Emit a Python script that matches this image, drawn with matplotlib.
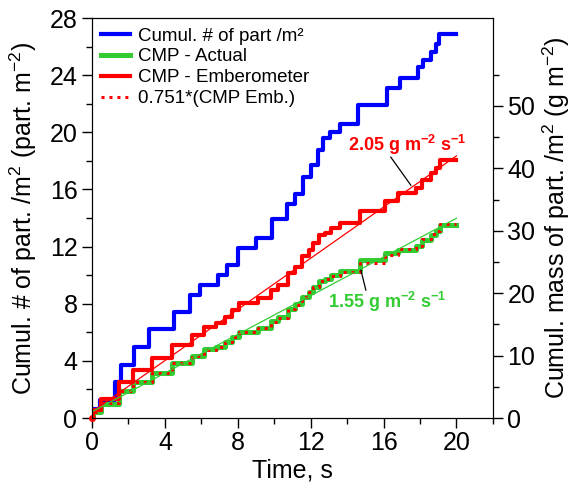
import matplotlib
matplotlib.use('Agg')
import matplotlib.pyplot as plt
import numpy as np
from matplotlib.ticker import MultipleLocator, FixedLocator

plt.rcParams['font.family'] = 'Liberation Sans'
plt.rcParams['mathtext.fontset'] = 'custom'
plt.rcParams['mathtext.rm'] = 'Liberation Sans'
plt.rcParams['mathtext.default'] = 'regular'

#####cumulative number of particles (left axis)#####
t_num = [0.0, 0.45, 1.25, 1.6, 2.3, 3.1, 4.5, 5.4, 5.9, 6.9, 7.4, 8.0, 9.0, 9.9,
         10.7, 11.15, 11.6, 12.0, 12.4, 12.7, 13.05, 13.6, 14.6, 16.2, 16.9,
         17.9, 18.15, 18.6, 18.9, 19.05, 20.0]
n_num = [0.65, 1.25, 2.5, 3.7, 5.0, 6.2, 7.45, 8.6, 9.3, 10.0, 10.7, 11.9, 12.6, 13.9,
         15.0, 15.7, 16.9, 17.7, 18.75, 19.6, 20.0, 20.6, 21.9, 23.1, 23.8,
         24.6, 25.05, 25.6, 26.2, 26.9, 26.9]

#####cumulative mass (right axis)#####
t_cmp = [0.0, 0.05, 0.5, 1.5, 2.25, 3.3, 4.4, 5.5, 6.15, 6.8, 7.3, 7.7, 8.05, 9.1,
         9.85, 10.2, 10.75, 11.15, 11.5, 11.9, 12.15, 12.45, 12.8, 13.1, 13.6,
         14.7, 16.1, 16.8, 17.8, 18.1, 18.6, 18.9, 19.1, 20.0]
cmp_emb = [0.0, 1.3, 3.1, 5.8, 7.7, 9.6, 11.7, 13.3, 14.6, 15.2, 16.2, 17.3, 18.4, 19.2,
           20.5, 21.3, 23.2, 24.2, 25.9, 26.9, 28.0, 29.3, 29.6, 30.4, 31.2,
           33.1, 34.7, 36.0, 36.8, 38.1, 39.2, 40.0, 41.3, 41.3]
cmp_act = [0.0, 1.0, 2.3, 4.4, 5.8, 7.2, 8.8, 10.0, 11.0, 11.4, 12.2, 13.0, 13.8, 14.4,
           15.6, 16.2, 17.4, 18.2, 19.4, 20.2, 21.0, 22.0, 22.3, 22.9, 23.6,
           25.3, 26.5, 27.0, 27.6, 28.6, 29.4, 30.0, 31.0, 31.0]
emb_factor = 0.751
cmp_scaled = [emb_factor*v for v in cmp_emb]

#####linear fits#####
slope_emb, icpt_emb = 2.05, 1.0
slope_act, icpt_act = 1.55, 1.0
t_fit = np.array([0.0, 20.0])

fig = plt.figure(figsize=(5.73, 4.92), dpi=100)
ax = fig.add_axes([0.1606, 0.1504, 0.6995, 0.813])
ax2 = ax.twinx()

l1, = ax.plot(t_num, n_num, drawstyle='steps-post', color='#0000ff', lw=3.0, label='Cumul. # of part /m\u00b2')
l2, = ax2.plot(t_cmp, cmp_act, drawstyle='steps-post', color='#33cc33', lw=3.6, label='CMP - Actual')
l3, = ax2.plot(t_cmp, cmp_emb, drawstyle='steps-post', color='#ff0000', lw=3.0, label='CMP - Emberometer')
l4, = ax2.plot(t_cmp, cmp_scaled, drawstyle='steps-post', color='#ff0000', lw=2.2,
               linestyle=(0, (1, 1.6)), label='0.751*(CMP Emb.)')
ax2.plot(t_fit, slope_emb*t_fit + icpt_emb, color='#ff0000', lw=0.9)
ax2.plot(t_fit, slope_act*t_fit + icpt_act, color='#33cc33', lw=0.9)
ax2.plot([0], [0], 'o', color='#ff0000', ms=4, clip_on=False)

ax.set_xlim(0, 22)
ax.set_ylim(0, 28)
ax2.set_ylim(0, 64.1)

ax.xaxis.set_major_locator(MultipleLocator(4))
ax.xaxis.set_minor_locator(MultipleLocator(2))
ax.yaxis.set_major_locator(MultipleLocator(4))
ax.yaxis.set_minor_locator(MultipleLocator(2))
ax2.yaxis.set_major_locator(FixedLocator([0, 10, 20, 30, 40, 50]))
ax2.yaxis.set_minor_locator(FixedLocator([5, 15, 25, 35, 45, 55]))
ax.tick_params(which='major', direction='out', length=7, width=1, labelsize=18)
ax.tick_params(which='minor', direction='out', length=4, width=1)
ax.tick_params(axis='x', which='major', pad=2)
ax2.tick_params(which='major', direction='out', length=7, width=1, labelsize=18)
ax2.tick_params(which='minor', direction='out', length=4, width=1)

ax.set_xlabel('Time, s', fontsize=18)
ax.set_ylabel('Cumul. # of part. /m$^2$ (part. m$^{-2}$)', fontsize=18)
ax2.set_ylabel('Cumul. mass of part. /m$^2$ (g m$^{-2}$)', fontsize=18)
ax.yaxis.set_label_coords(-0.133, 0.5)
ax2.yaxis.set_label_coords(1.118, 0.5)
ax.xaxis.set_label_coords(0.5, -0.1)

ax2.legend(handles=[l1, l2, l3, l4], loc='upper left', frameon=False, fontsize=13.5,
           handlelength=1.5, handletextpad=0.45, labelspacing=0.2,
           borderaxespad=0.2, borderpad=0.3, bbox_to_anchor=(0.0, 1.0))

# fit labels with leader lines
ax2.text(17.3, 43.7, '2.05 g m$^{-2}$ s$^{-1}$', color='#ff0000', fontsize=13,
         fontweight='bold', ha='center', va='center')
ax2.plot([16.4, 17.5], [41.8, 37.3], color='k', lw=0.9)
ax2.text(16.2, 18.6, '1.55 g m$^{-2}$ s$^{-1}$', color='#33cc33', fontsize=13,
         fontweight='bold', ha='center', va='center')
ax2.plot([14.76, 15.03], [23.7, 20.5], color='k', lw=0.9)

plt.savefig('out.png', dpi=100)
